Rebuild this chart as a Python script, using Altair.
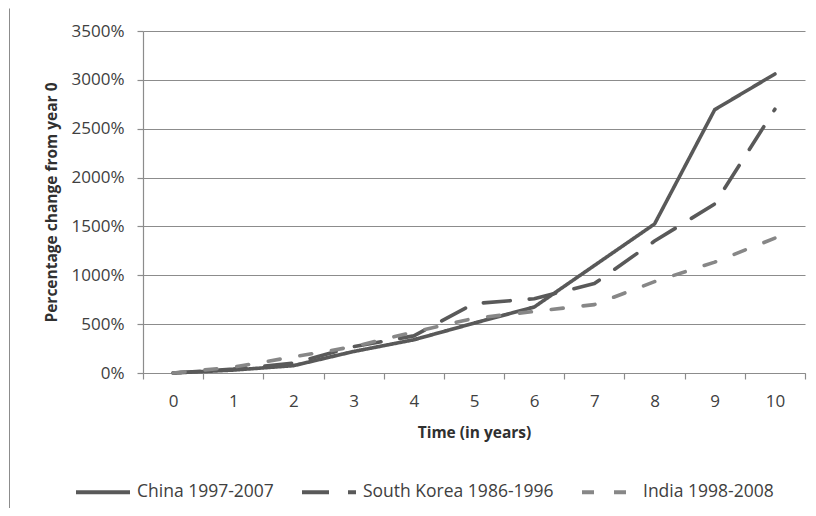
import altair as alt
import pandas as pd

years = list(range(11))
series_names = ["China 1997-2007", "South Korea 1986-1996", "India 1998-2008"]
china = [0, 30, 75, 220, 340, 510, 675, 1100, 1525, 2695, 3060]
south_korea = [0, 40, 100, 270, 380, 710, 760, 915, 1350, 1730, 2700]
india = [0, 60, 165, 270, 420, 560, 630, 700, 935, 1135, 1380]
y_ticks = [0, 500, 1000, 1500, 2000, 2500, 3000, 3500]

rows = []
for name, vals in zip(series_names, [china, south_korea, india]):
    for yr, v in zip(years, vals):
        rows.append({"year": yr, "value": v, "series": name})
df = pd.DataFrame(rows)

FONT = "Open Sans"
TEXT = "#404040"
AXIS = "#8c8c8c"

legend_kw = dict(title=None, orient="none", direction="horizontal",
                 legendX=-69, legendY=432, symbolType="stroke",
                 symbolSize=2916, symbolStrokeWidth=4,
                 labelOffset=5, columnPadding=20, padding=0, labelLimit=0,
                 labelFont=FONT, labelFontSize=17.5, labelColor=TEXT)

lines = alt.Chart(df).mark_line(strokeWidth=3.6, strokeCap="round", strokeJoin="round").encode(
    x=alt.X("year:O", sort=years,
            scale=alt.Scale(paddingInner=0, paddingOuter=0),
            axis=alt.Axis(title="Time (in years)", labelAngle=0, tickBand="extent",
                          grid=False, tickSize=6, labelPadding=14, titlePadding=16)),
    y=alt.Y("value:Q", scale=alt.Scale(domain=[0, 3500], nice=False),
            axis=alt.Axis(title="Percentage change from year 0", values=y_ticks,
                          labelExpr="datum.value + '%'", tickSize=6, labelPadding=13,
                          titlePadding=12, grid=True)),
    color=alt.Color("series:N", sort=series_names,
                    scale=alt.Scale(domain=series_names, range=["#595959", "#595959", "#878787"]),
                    legend=alt.Legend(**legend_kw)),
    strokeDash=alt.StrokeDash("series:N", sort=series_names,
                              scale=alt.Scale(domain=series_names,
                                              range=[[1, 0], [27, 19], [12, 20]]),
                              legend=alt.Legend(**legend_kw)),
)

frame_df = pd.DataFrame({"k": [0]})
frame_left = alt.Chart(frame_df).mark_rule(stroke="#8c8c8c", strokeWidth=1).encode(
    x=alt.value(-133.5), y=alt.value(-22.5), y2=alt.value(480)
)

chart = alt.layer(frame_left, lines).properties(
    width=662, height=342,
    autosize=alt.AutoSizeParams(type="none"),
    padding={"left": 135, "top": 23, "right": 3, "bottom": 135},
).configure_view(stroke=None).configure_axis(
    labelFont=FONT, labelFontSize=17, labelColor=TEXT,
    titleFont=FONT, titleFontSize=15.5, titleFontWeight="bold", titleColor="#303030",
    domainColor=AXIS, tickColor=AXIS, gridColor=AXIS, domainWidth=1.2, gridWidth=1.2, tickWidth=1.2,
)

chart.save("out.html", embed_options={"renderer": "svg", "actions": False})
